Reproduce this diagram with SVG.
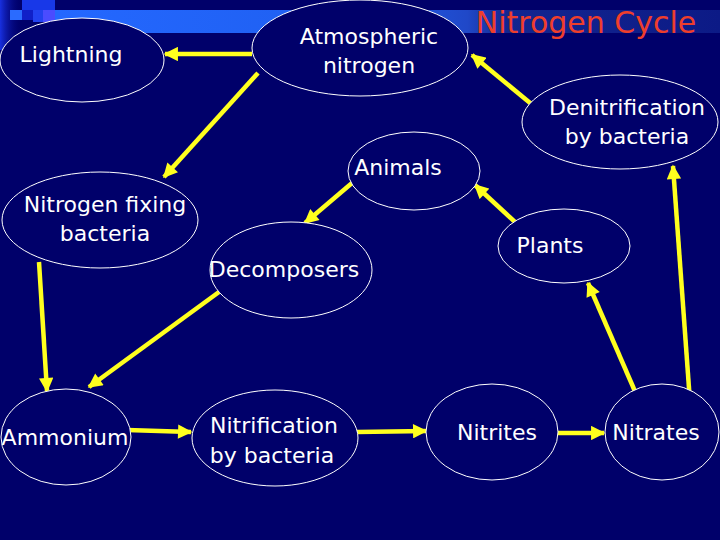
<svg xmlns="http://www.w3.org/2000/svg" width="720" height="540" viewBox="0 0 720 540">
  <defs>
    <linearGradient id="bar" x1="0" y1="0" x2="1" y2="0">
      <stop offset="0" stop-color="#2468ff"/>
      <stop offset="0.45" stop-color="#1f5ff0"/>
      <stop offset="0.62" stop-color="#2048c8"/>
      <stop offset="0.68" stop-color="#122690"/>
      <stop offset="1" stop-color="#0c1a86"/>
    </linearGradient>
    <linearGradient id="edge" x1="0" y1="0" x2="1" y2="0">
      <stop offset="0" stop-color="#1830e0"/>
      <stop offset="1" stop-color="#000070" stop-opacity="0"/>
    </linearGradient>
    <marker id="ah" viewBox="0 0 10 10" refX="9" refY="5" markerWidth="3.4" markerHeight="3.2" orient="auto" markerUnits="strokeWidth">
      <path d="M0,0 L10,5 L0,10 Z" fill="#ffff1e"/>
    </marker>
    <style>
      .node ellipse { fill: #00006a; stroke: #ffffff; stroke-width: 1; }
      .node text { fill: #ffffff; font-family: "DejaVu Sans", "Liberation Sans", sans-serif; font-size: 22px; text-anchor: middle; dominant-baseline: central; }
      .conn line { stroke: #ffff1e; stroke-width: 4.5; marker-end: url(#ah); }
    </style>
  </defs>
  <rect x="0" y="0" width="720" height="540" fill="#00006a"/>
  <!-- decoration -->
  <g id="decoration">
    <rect x="0" y="0" width="22" height="50" fill="url(#edge)"/>
    <rect x="22" y="0" width="33" height="10" fill="#1838e8"/>
    <rect x="10" y="10" width="12" height="10" fill="#2a6bff"/>
    <rect x="22" y="10" width="11" height="10" fill="#1020c8"/>
    <rect x="33" y="10" width="10" height="12" fill="#2242f0"/>
    <rect x="43" y="10" width="12" height="12" fill="#4a4cff"/>
    <rect x="55" y="10" width="665" height="23" fill="url(#bar)"/>
  </g>
  <text x="586" y="33" fill="#ee3e2c" font-family="DejaVu Sans, Liberation Sans, sans-serif" font-size="30" text-anchor="middle">Nitrogen Cycle</text>

  <g id="connectors" class="conn">
    <line x1="252" y1="54" x2="165" y2="54"/>
    <line x1="258" y1="73" x2="164" y2="177"/>
    <line x1="535" y1="107" x2="472" y2="55"/>
    <line x1="515" y1="222" x2="475" y2="185"/>
    <line x1="352" y1="183" x2="305" y2="223"/>
    <line x1="690" y1="402" x2="673" y2="166"/>
    <line x1="637" y1="396" x2="588" y2="283"/>
    <line x1="39" y1="262" x2="47" y2="391"/>
    <line x1="219" y1="292" x2="89" y2="387"/>
    <line x1="127" y1="430" x2="191" y2="432"/>
    <line x1="357" y1="432" x2="426" y2="431"/>
    <line x1="553" y1="433" x2="604" y2="433"/>
  </g>

  <g id="lightning" class="node">
    <ellipse cx="82" cy="60" rx="82" ry="42"/>
    <text x="71" y="54">Lightning</text>
  </g>
  <g id="atmospheric" class="node">
    <ellipse cx="360" cy="48" rx="108" ry="48"/>
    <text x="369" y="36">Atmospheric</text>
    <text x="369" y="65">nitrogen</text>
  </g>
  <g id="denitrification" class="node">
    <ellipse cx="620" cy="122" rx="98" ry="47"/>
    <text x="627" y="107">Denitrification</text>
    <text x="627" y="136">by bacteria</text>
  </g>
  <g id="animals" class="node">
    <ellipse cx="414" cy="171" rx="66" ry="39"/>
    <text x="398" y="167">Animals</text>
  </g>
  <g id="nitrogen-fixing" class="node">
    <ellipse cx="100" cy="220" rx="98" ry="48"/>
    <text x="105" y="204">Nitrogen fixing</text>
    <text x="105" y="233">bacteria</text>
  </g>
  <g id="decomposers" class="node">
    <ellipse cx="291" cy="270" rx="81" ry="48"/>
    <text x="284" y="269">Decomposers</text>
  </g>
  <g id="plants" class="node">
    <ellipse cx="564" cy="246" rx="66" ry="37"/>
    <text x="550" y="245">Plants</text>
  </g>
  <g id="ammonium" class="node">
    <ellipse cx="66" cy="437" rx="65" ry="48"/>
    <text x="65" y="437">Ammonium</text>
  </g>
  <g id="nitrification" class="node">
    <ellipse cx="275" cy="438" rx="83" ry="48"/>
    <text x="274" y="425">Nitrification</text>
    <text x="272" y="455">by bacteria</text>
  </g>
  <g id="nitrites" class="node">
    <ellipse cx="492" cy="432" rx="66" ry="48"/>
    <text x="497" y="432">Nitrites</text>
  </g>
  <g id="nitrates" class="node">
    <ellipse cx="662" cy="432" rx="57" ry="48"/>
    <text x="656" y="432">Nitrates</text>
  </g>
</svg>
